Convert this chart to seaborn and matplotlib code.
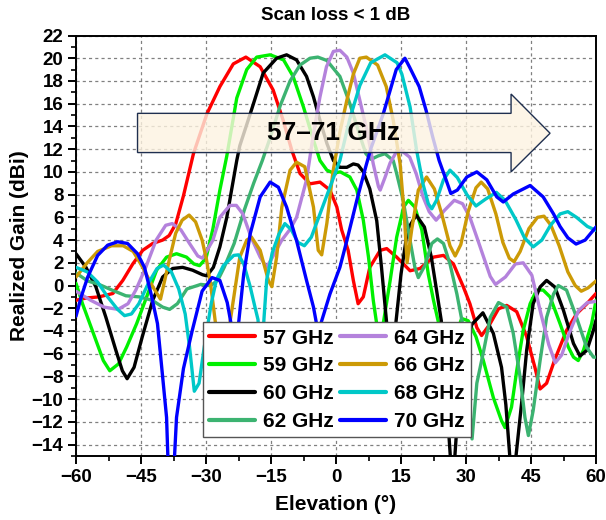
import matplotlib
matplotlib.use("Agg")
import matplotlib.pyplot as plt
import numpy as np
import pandas as pd
import seaborn as sns
from matplotlib.patches import Polygon
from matplotlib.ticker import MultipleLocator
from matplotlib.lines import Line2D

# ---------------- data ----------------
freqs = ["57 GHz", "59 GHz", "60 GHz", "62 GHz", "64 GHz", "66 GHz", "68 GHz", "70 GHz"]
colors = ["#FF0000", "#00F000", "#000000", "#3CB371", "#B482DC", "#CC9A06", "#00C8C8", "#0000FF"]

el_57 = [-60, -57.7, -54.7, -51.5, -49.2, -46.9, -44.6, -42.3, -40.0, -38.5, -37.0, -35.2, -32.9, -29.8, -26.8,
         -23.7, -20.8, -17.5, -14.5, -12.2, -10.2, -8.3, -6.0, -3.7, -1.4, 0.2, 1.3, 2.8, 4.0, 5.1, 6.3, 7.8, 10.2,
         11.7, 14.0, 17.1, 19.4, 22.5, 24.8, 27.1, 29.4, 30.9, 32.5, 33.6, 35.5, 37.5, 39.4, 41.7, 44.0, 45.9, 47.1,
         48.6, 50.5, 53.2, 55.5, 57.9, 60]
g_57 = [-1.3, -1.1, -1.0, -0.7, 0.45, 1.9, 3.1, 3.7, 4.0, 4.4, 5.4, 7.9, 11.6, 15.1, 17.5, 19.5, 20.1, 19.25, 17.2,
        14.55, 11.9, 9.85, 8.95, 9.1, 8.4, 6.9, 4.9, 3.1, 0.45, -1.6, -1.0, 1.6, 3.1, 3.25, 2.5, 1.3, 1.5, 2.5, 2.65,
        1.9, -0.13, -1.6, -3.7, -4.4, -3.4, -2.05, -1.75, -2.3, -4.5, -7.2, -9.1, -8.6, -6.5, -3.95, -2.5, -1.6, -0.7]

el_59 = [-60, -58.5, -56.0, -53.7, -52.2, -50.2, -48.3, -46.0, -43.7, -41.4, -39.1, -36.8, -34.5, -32.8, -31.5,
         -30.0, -28.4, -26.8, -25.2, -22.9, -20.6, -18.3, -15.2, -12.1, -9.9, -7.5, -5.2, -3.7, -2.1, -0.6, 1.0, 3.2,
         4.8, 6.3, 7.5, 8.6, 9.4, 10.1, 10.9, 12.5, 14.0, 15.6, 16.7, 18.2, 19.8, 21.3, 22.5, 23.7, 25.2, 27.5, 29.0,
         30.5, 32.3, 34.0, 36.3, 38.2, 39.0, 40.5, 41.7, 43.2, 44.8, 46.3, 47.8, 49.4, 51.7, 53.6, 54.8, 55.9, 57.1,
         59.0, 60]
g_59 = [0.2, -1.6, -4.2, -6.6, -7.5, -6.9, -5.4, -3.35, -1.0, 1.35, 2.5, 2.8, 2.5, 1.9, 1.75, 2.4, 5.0, 8.4, 11.4,
        16.5, 19.0, 20.1, 20.3, 19.85, 18.4, 15.7, 12.8, 11.0, 10.15, 9.9, 10.0, 9.55, 8.4, 5.75, 2.5, -1.3, -3.4,
        -12.0, -3.35, 0.45, 4.25, 6.9, 7.5, 6.9, 4.9, 1.0, -1.3, -3.35, -12.0, -4.5, -2.9, -3.1, -4.5, -6.6, -9.85,
        -11.9, -12.5, -10.7, -7.5, -3.95, -1.6, -0.4, -0.4, -1.0, -3.35, -5.4, -6.3, -6.6, -5.7, -3.35, -1.3]

el_60 = [-60, -57.7, -55.4, -53.1, -50.8, -49.3, -48.2, -46.6, -44.7, -42.3, -40.0, -37.7, -35.4, -33.1, -30.8,
         -29.8, -28.3, -26.8, -25.2, -24.1, -22.9, -22.2, -19.8, -16.8, -13.7, -11.4, -9.1, -6.8, -5.2, -3.7, -2.1,
         -0.6, 0.9, 2.5, 4.0, 5.1, 6.3, 7.8, 9.4, 10.5, 11.7, 12.6, 13.8, 15.0, 16.5, 18.5, 20.4, 22.0, 23.2, 24.3,
         26.9, 28.5, 30.0, 31.4, 33.9, 36.3, 38.2, 39.2, 40.7, 42.9, 44.0, 45.5, 47.1, 48.6, 50.5, 52.5, 54.8, 56.3,
         57.9, 59.4, 60]
g_60 = [2.8, 1.6, -0.13, -2.8, -5.7, -7.5, -8.2, -7.2, -4.5, -1.3, 0.75, 1.5, 1.6, 1.35, 0.95, 0.85, 1.6, 3.4, 6.0,
        8.4, 11.0, 12.3, 15.1, 18.7, 20.0, 20.3, 19.85, 18.4, 16.6, 14.55, 12.5, 11.0, 10.4, 10.4, 10.7, 10.6, 10.0,
        8.5, 5.7, 1.6, -3.35, -12.0, -3.35, 1.0, 4.9, 6.2, 5.15, 2.5, -0.4, -3.1, -18.0, -9.0, -5.0, -3.4, -2.4,
        -4.2, -7.2, -10.5, -18.0, -10.1, -5.7, -1.6, -0.13, 0.45, -0.13, -2.2, -5.1, -6.2, -5.7, -3.95, -3.05]

el_62 = [-60, -57.3, -54.7, -51.7, -48.5, -45.4, -42.4, -40.0, -38.4, -36.6, -34.4, -31.2, -28.9, -27.3, -25.8,
         -23.5, -21.2, -19.0, -17.0, -15.2, -12.9, -10.6, -8.3, -6.0, -4.2, -2.1, 0.9, 3.2, 5.5, 6.9, 8.1, 9.7, 11.3,
         13.2, 14.0, 15.5, 17.1, 18.2, 19.0, 20.5, 22.1, 23.4, 24.8, 26.3, 27.9, 29.2, 31.4, 32.5, 34.1, 35.6, 37.5,
         39.4, 40.9, 42.5, 43.6, 44.4, 45.5, 47.1, 48.6, 50.2, 51.3, 53.2, 55.5, 57.8, 59.4, 60]
g_62 = [1.1, 0.4, 0.1, -0.4, -0.9, -1.0, -1.3, -1.9, -2.1, -1.6, -0.3, 0.1, 0.0, 0.45, 1.6, 3.7, 6.6, 9.0, 11.0,
        13.0, 15.8, 18.0, 19.4, 20.0, 20.1, 19.8, 18.4, 16.0, 13.2, 11.6, 11.1, 11.4, 11.6, 11.0, 9.85, 7.5, 3.95,
        1.6, 0.7, 1.75, 3.7, 4.1, 3.7, 1.9, -0.75, -3.35, -13.5, -8.6, -5.7, -2.8, -1.5, -1.9, -4.2, -8.1, -11.6,
        -13.2, -11.0, -6.6, -2.8, -0.75, 0.0, -0.4, -2.8, -5.4, -6.3, -6.3]

el_64 = [-60, -56.6, -53.5, -50.3, -48.0, -46.2, -43.9, -41.5, -39.3, -37.8, -35.8, -33.8, -31.9, -30.8, -28.4,
         -26.8, -24.5, -23.0, -21.5, -19.6, -17.5, -16.0, -14.5, -12.5, -10.5, -9.1, -6.8, -5.3, -3.7, -2.2, -0.6,
         0.9, 2.5, 4.0, 5.5, 7.1, 8.6, 9.8, 10.2, 11.3, 12.5, 14.0, 15.0, 17.0, 18.5, 20.1, 21.5, 23.1, 25.0, 27.3,
         29.2, 30.9, 32.5, 33.8, 35.6, 36.8, 39.1, 41.4, 43.2, 45.2, 47.3, 49.1, 50.6, 52.1, 53.8, 56.0, 58.0, 60]
g_64 = [-0.5, -1.3, -1.9, -2.1, -1.6, -0.4, 1.6, 4.0, 5.3, 5.45, 4.9, 3.7, 2.6, 2.4, 4.0, 6.0, 7.05, 7.05, 6.3,
        4.25, 2.5, 1.6, 2.6, 4.0, 5.0, 6.0, 9.3, 13.1, 16.6, 19.25, 20.6, 20.7, 20.1, 18.7, 16.3, 13.7, 10.7, 8.7,
        8.4, 9.5, 10.8, 11.8, 11.9, 11.3, 9.85, 7.8, 6.5, 5.75, 6.6, 7.5, 7.2, 6.0, 4.25, 2.8, 0.8, 0.1, 0.75, 1.9,
        2.0, 0.9, -2.5, -5.2, -6.8, -6.1, -4.2, -2.2, -1.5, -1.4]

el_66 = [-60, -57.4, -55.0, -51.8, -49.1, -46.8, -44.6, -42.3, -40.5, -38.5, -37.0, -35.5, -33.9, -32.4, -30.9,
         -29.9, -28.9, -27.8, -26.1, -24.5, -22.2, -20.6, -19.5, -17.5, -15.6, -14.8, -13.7, -12.5, -10.6, -9.1,
         -7.2, -5.2, -4.1, -3.3, -2.1, -0.7, 0.9, 2.5, 4.0, 5.5, 7.0, 9.6, 11.6, 13.2, 14.8, 15.8, 16.4, 17.5, 19.0,
         20.9, 22.7, 24.4, 26.3, 27.5, 28.8, 30.5, 32.3, 33.5, 35.0, 36.9, 38.5, 40.0, 41.1, 42.5, 44.5, 46.5, 48.0,
         49.6, 51.5, 53.5, 55.2, 56.6, 58.2, 60]
g_66 = [0.75, 2.0, 3.0, 3.5, 3.5, 3.0, 1.6, -0.1, -1.2, 2.2, 4.6, 5.75, 6.2, 5.6, 4.0, 2.3, 0.0, -3.35, -9.0,
        -3.35, 2.5, 4.0, 4.25, 3.1, 0.45, -0.1, 2.5, 6.9, 10.15, 10.85, 10.45, 6.9, 3.1, 2.7, 5.5, 10.0, 13.5, 16.3,
        18.6, 20.0, 20.1, 19.4, 17.5, 14.55, 10.7, 6.0, 2.0, 5.0, 8.4, 9.55, 8.5, 6.3, 3.5, 2.6, 3.6, 6.5, 8.6, 9.1,
        8.5, 6.3, 3.8, 2.4, 2.1, 3.0, 5.0, 6.0, 6.1, 5.3, 3.5, 1.2, 0.0, -0.5, -0.2, 0.4]

el_68 = [-60, -57.4, -55.0, -52.7, -50.4, -48.8, -47.2, -45.5, -43.3, -41.3, -39.8, -38.0, -36.3, -34.8, -33.8,
         -32.7, -31.6, -30.4, -28.8, -27.6, -26.0, -23.6, -22.5, -21.3, -19.8, -18.7, -18.0, -17.3, -16.6, -16.0,
         -14.7, -13.2, -11.8, -10.3, -8.8, -7.3, -5.7, -3.7, -1.4, 0.9, 3.2, 5.5, 8.0, 11.3, 14.1, 15.2, 17.1, 18.6,
         20.1, 21.3, 22.1, 23.2, 24.8, 26.3, 28.0, 30.2, 32.3, 34.5, 37.0, 39.0, 41.5, 43.5, 45.5, 47.5, 49.5, 51.7,
         53.5, 55.5, 58.0, 60]
g_68 = [1.6, 1.2, 0.3, -1.0, -2.1, -2.65, -2.5, -1.6, 0.2, 1.5, 1.8, 1.2, -0.3, -2.5, -5.4, -9.3, -8.6, -5.4, -1.6,
        0.5, 1.75, 2.65, 2.7, 1.9, -0.1, -1.9, -3.0, -7.0, -2.8, 0.5, 2.9, 4.5, 5.45, 4.9, 3.8, 3.5, 4.25, 6.3, 8.65,
        11.0, 14.7, 17.6, 19.6, 20.3, 19.6, 18.6, 15.7, 11.9, 8.9, 7.2, 6.75, 7.5, 9.3, 10.15, 9.5, 8.0, 7.0, 7.6,
        8.2, 7.5, 5.8, 4.2, 3.4, 4.0, 5.3, 6.3, 6.5, 6.0, 5.2, 4.85]

el_70 = [-60, -58.8, -57.3, -55.0, -52.7, -50.4, -48.1, -45.8, -44.2, -42.7, -41.2, -40.6, -39.1, -38.2, -36.8,
         -35.2, -33.2, -30.9, -28.6, -26.8, -25.1, -24.2, -23.3, -22.5, -21.3, -19.8, -17.5, -15.2, -13.3, -11.4,
         -9.1, -6.8, -5.2, -4.5, -4.0, -3.5, -1.4, 0.9, 2.5, 4.8, 6.9, 8.0, 10.9, 13.9, 15.9, 17.0, 19.2, 20.8, 22.3,
         23.8, 25.4, 26.5, 28.0, 30.2, 32.5, 34.8, 37.1, 38.6, 40.9, 44.8, 47.8, 50.2, 51.7, 53.5, 55.4, 57.5, 60]
g_70 = [-2.7, -1.0, 0.75, 2.65, 3.55, 3.85, 3.7, 2.8, 1.6, -0.7, -3.35, -5.7, -11.6, -22.0, -11.6, -7.3, -4.0,
        -0.5, 0.7, 0.45, -1.5, -3.4, -10.0, -3.4, 1.0, 4.55, 7.8, 9.1, 8.65, 6.9, 3.95, 0.45, -1.9, -3.35, -8.0,
        -3.35, -0.75, 1.6, 3.95, 7.5, 10.5, 12.0, 15.1, 19.0, 20.0, 19.2, 17.5, 15.4, 13.1, 11.0, 9.3, 8.1, 8.4,
        9.55, 10.0, 9.3, 7.8, 7.35, 8.05, 8.8, 7.8, 6.3, 5.2, 4.2, 3.65, 4.0, 5.15]

x_ticks = [-60, -45, -30, -15, 0, 15, 30, 45, 60]
y_ticks = list(range(-14, 23, 2))

elevations = [el_57, el_59, el_60, el_62, el_64, el_66, el_68, el_70]
gains = [g_57, g_59, g_60, g_62, g_64, g_66, g_68, g_70]

frames = []
for f, e, g in zip(freqs, elevations, gains):
    frames.append(pd.DataFrame({"Elevation": e, "Gain": g, "Frequency": f}))
df = pd.concat(frames, ignore_index=True)

# ---------------- style ----------------
sns.set_style("white")
FAM = ["Liberation Sans", "DejaVu Sans"]
plt.rcParams["font.family"] = FAM
plt.rcParams["font.weight"] = "bold"
plt.rcParams["axes.unicode_minus"] = True
plt.rcParams["text.color"] = "black"
plt.rcParams["axes.labelcolor"] = "black"
plt.rcParams["xtick.color"] = "black"
plt.rcParams["ytick.color"] = "black"
plt.rcParams["axes.edgecolor"] = "black"

fig = plt.figure(figsize=(6.06, 5.2), dpi=100)
ax = fig.add_axes([76 / 606, 1 - 456 / 520, 520 / 606, 420.5 / 520])

sns.lineplot(data=df, x="Elevation", y="Gain", hue="Frequency", hue_order=freqs,
             palette=dict(zip(freqs, colors)), estimator=None, sort=True,
             linewidth=2.4, legend=False, ax=ax, zorder=3)

ax.set_xlim(-60, 60)
ax.set_ylim(-15, 22)
ax.set_xticks(x_ticks)
ax.set_yticks(y_ticks)
ax.xaxis.set_minor_locator(MultipleLocator(7.5))
ax.yaxis.set_minor_locator(MultipleLocator(1))
ax.tick_params(axis="both", which="major", direction="out", length=6, width=1.4, colors="black",
               labelsize=13.5, bottom=True, left=True, top=False, right=False, pad=3)
ax.tick_params(axis="both", which="minor", direction="out", length=3.5, width=1.2, colors="black",
               bottom=True, left=True, top=False, right=False)
for lab in ax.get_xticklabels() + ax.get_yticklabels():
    lab.set_fontweight("bold")

ax.grid(True, which="major", linestyle=(0, (2.5, 2.5)), color="#808080", linewidth=0.9, zorder=0)
ax.set_axisbelow(True)
for s in ax.spines.values():
    s.set_linewidth(1.4)
    s.set_color("black")

ax.set_xlabel("Elevation (°)", fontsize=15, fontweight="bold", labelpad=7, color="black")
ax.set_ylabel("Realized Gain (dBi)", fontsize=15, fontweight="bold", labelpad=2, color="black")
ax.set_title("Scan loss < 1 dB", fontsize=13.5, fontweight="bold", pad=11, color="black")

# big arrow annotation
arrow_pts = [(-45.8, 11.7), (40.4, 11.7), (40.4, 10.0), (49.4, 13.4), (40.4, 16.85), (40.4, 15.15), (-45.8, 15.15)]
ax.add_patch(Polygon(arrow_pts, closed=True, facecolor="#FDF3E1", edgecolor="none", alpha=0.8, zorder=5))
ax.add_patch(Polygon(arrow_pts, closed=True, facecolor="none", edgecolor="#1F2F4F", linewidth=1.0, zorder=6))
ax.text(-0.5, 13.4, "57–71 GHz", fontsize=19, fontweight="bold", ha="center", va="center",
        color="black", zorder=7)

handles = [Line2D([0], [0], color=c, linewidth=3) for c in colors]
leg = ax.legend(handles, freqs, ncol=2, loc="lower left", bbox_to_anchor=(0.244, 0.045),
                prop={"weight": "bold", "size": 15}, frameon=True, fancybox=False, framealpha=1,
                edgecolor="#555555", handlelength=2.2, handletextpad=0.38, columnspacing=0.3,
                labelspacing=0.42, borderpad=0.3, borderaxespad=0)
leg.get_frame().set_linewidth(1.0)
for t in leg.get_texts():
    t.set_color("black")
leg.set_zorder(10)

fig.savefig("out.png", dpi=100)
